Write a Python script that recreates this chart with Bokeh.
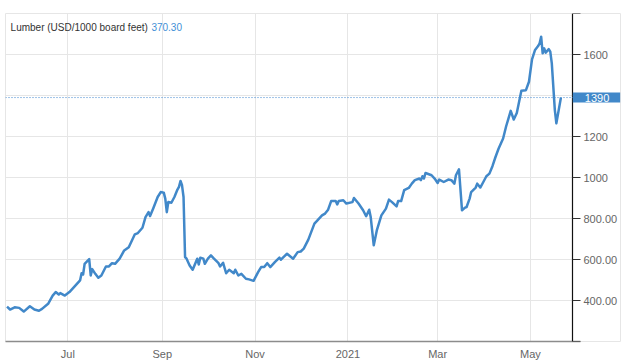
import pandas as pd
from bokeh.plotting import figure
from bokeh.models import ColumnDataSource, FixedTicker, Span, Label, Range1d
from bokeh.embed import file_html
from bokeh.resources import INLINE

# ---- data ----
dates = [
    "2020-05-22", "2020-05-24", "2020-05-27", "2020-05-30", "2020-06-02", "2020-06-06",
    "2020-06-09", "2020-06-12", "2020-06-14", "2020-06-18", "2020-06-21", "2020-06-23",
    "2020-06-25", "2020-06-26", "2020-06-29", "2020-07-02", "2020-07-05", "2020-07-09",
    "2020-07-10", "2020-07-11", "2020-07-12", "2020-07-15", "2020-07-16", "2020-07-17",
    "2020-07-19", "2020-07-21", "2020-07-23", "2020-07-26", "2020-07-28", "2020-07-30",
    "2020-08-01", "2020-08-04", "2020-08-07", "2020-08-10", "2020-08-14", "2020-08-16",
    "2020-08-19", "2020-08-21", "2020-08-23", "2020-08-24", "2020-08-26", "2020-08-29",
    "2020-08-31", "2020-09-02", "2020-09-03", "2020-09-04", "2020-09-05", "2020-09-07",
    "2020-09-09", "2020-09-11", "2020-09-12", "2020-09-13", "2020-09-14", "2020-09-15",
    "2020-09-16", "2020-09-17", "2020-09-19", "2020-09-21", "2020-09-24", "2020-09-25",
    "2020-09-26", "2020-09-28", "2020-09-29", "2020-10-01", "2020-10-03", "2020-10-05",
    "2020-10-08", "2020-10-09", "2020-10-11", "2020-10-13", "2020-10-15", "2020-10-18",
    "2020-10-19", "2020-10-21", "2020-10-23", "2020-10-26", "2020-10-28", "2020-10-31",
    "2020-11-03", "2020-11-05", "2020-11-07", "2020-11-09", "2020-11-11", "2020-11-14",
    "2020-11-17", "2020-11-18", "2020-11-20", "2020-11-22", "2020-11-26", "2020-11-29",
    "2020-12-01", "2020-12-03", "2020-12-06", "2020-12-10", "2020-12-12", "2020-12-15",
    "2020-12-17", "2020-12-19", "2020-12-21", "2020-12-24", "2020-12-25", "2020-12-26",
    "2020-12-29", "2020-12-31", "2021-01-04", "2021-01-05", "2021-01-08", "2021-01-11",
    "2021-01-13", "2021-01-15", "2021-01-16", "2021-01-18", "2021-01-20", "2021-01-23",
    "2021-01-26", "2021-01-28", "2021-01-30", "2021-02-02", "2021-02-03", "2021-02-05",
    "2021-02-07", "2021-02-10", "2021-02-12", "2021-02-14", "2021-02-17", "2021-02-18",
    "2021-02-19", "2021-02-20", "2021-02-21", "2021-02-25", "2021-02-27", "2021-03-01",
    "2021-03-02", "2021-03-05", "2021-03-08", "2021-03-10", "2021-03-12", "2021-03-13",
    "2021-03-15", "2021-03-17", "2021-03-19", "2021-03-20", "2021-03-22", "2021-03-23",
    "2021-03-26", "2021-03-27", "2021-03-29", "2021-03-31", "2021-04-02", "2021-04-04",
    "2021-04-06", "2021-04-08", "2021-04-10", "2021-04-13", "2021-04-15", "2021-04-18",
    "2021-04-20", "2021-04-22", "2021-04-25", "2021-04-28", "2021-04-30", "2021-05-02",
    "2021-05-04", "2021-05-06", "2021-05-07", "2021-05-08", "2021-05-09", "2021-05-10",
    "2021-05-11", "2021-05-13", "2021-05-14", "2021-05-15", "2021-05-17", "2021-05-18",
    "2021-05-21",
]
prices = [
    370.3, 356, 367, 364, 346, 372,
    356, 350, 359, 384, 424, 441,
    429, 436, 424, 441, 465, 498,
    533, 527, 579, 602, 522, 553,
    530, 511, 522, 566, 566, 582,
    579, 604, 644, 660, 723, 729,
    755, 807, 831, 812, 848, 905,
    929, 926, 897, 831, 880, 877,
    905, 941, 954, 983, 962, 905,
    612, 604, 571, 550, 604, 576,
    609, 604, 579, 604, 620, 604,
    582, 566, 584, 533, 550, 533,
    550, 522, 530, 506, 503, 496,
    538, 563, 563, 582, 563, 587,
    609, 599, 614, 628, 604, 636,
    639, 653, 697, 775, 791, 815,
    824, 843, 885, 885, 869, 885,
    889, 873, 880, 900, 873, 840,
    811, 843, 807, 669, 742, 815,
    848, 892, 880, 859, 885, 885,
    938, 949, 970, 987, 995, 987,
    1006, 995, 1022, 1011, 995, 973,
    990, 978, 990, 987, 970, 1011,
    1040, 840, 853, 856, 897, 929,
    951, 970, 951, 978, 1006, 1019,
    1055, 1100, 1140, 1190, 1250, 1325,
    1283, 1315, 1423, 1426, 1467, 1576,
    1622, 1641, 1655, 1687, 1606, 1630,
    1609, 1626, 1614, 1557, 1329, 1264,
    1390,
]

month_ticks = ["2020-07-01", "2020-09-01", "2020-11-01", "2021-01-01", "2021-03-01", "2021-05-01"]
month_labels = ["Jul", "Sep", "Nov", "2021", "Mar", "May"]
y_ticks = [200, 400, 600, 800, 1000, 1200, 1400, 1600, 1800]
y_labels = ["", "400.00", "600.00", "800.00", "1000", "1200", "", "1600", ""]
title_text = "Lumber (USD/1000 board feet)"
title_value = "370.30"
last_value = 1390


def ms(s):
    return pd.Timestamp(s).value / 1e6


BLUE = "#4188c9"
FONT = "Liberation Sans"

X_START = ms("2020-05-21")
X_AXIS = ms("2021-05-28 14:00")      # where the price axis sits
X_END = ms("2021-06-29 03:30")       # right edge of the chart box
X_AXIS_LINE_END = ms("2021-06-02 22:00")

src = ColumnDataSource(dict(x=[ms(d) for d in dates], y=prices))

p = figure(
    frame_width=615, frame_height=328,
    x_range=Range1d(X_START, X_END),
    y_range=Range1d(200, 1800),
    y_axis_location="right",
    output_backend="svg", toolbar_location=None,
    min_border_left=5, min_border_top=13, min_border_right=4, min_border_bottom=22,
)
p.outline_line_color = "#e6e6e6"
p.background_fill_color = "white"
p.border_fill_color = "white"

xt = [ms(t) for t in month_ticks]
p.xaxis.ticker = FixedTicker(ticks=xt)
p.xaxis.major_label_overrides = {t: l for t, l in zip(xt, month_labels)}
p.xaxis.bounds = (X_START, X_AXIS_LINE_END)
p.xaxis.axis_line_color = "#8c8c8c"
p.xaxis.axis_line_width = 1.5
p.xaxis.major_tick_line_color = None
p.xaxis.minor_tick_line_color = None
p.xaxis.major_label_text_color = "#666666"
p.xaxis.major_label_text_font = FONT
p.xaxis.major_label_text_font_size = "11px"
p.xaxis.major_label_standoff = 0

yax = p.yaxis[0]
yax.fixed_location = X_AXIS
yax.ticker = FixedTicker(ticks=y_ticks)
yax.major_label_overrides = {t: l for t, l in zip(y_ticks, y_labels)}
yax.axis_line_color = "#111111"
yax.axis_line_width = 1.2
yax.major_tick_line_color = "#333333"
yax.major_tick_out = 8
yax.major_tick_in = 0
yax.minor_tick_line_color = None
yax.major_label_text_color = "#666666"
yax.major_label_text_font = FONT
yax.major_label_text_font_size = "11px"
yax.major_label_standoff = 3

p.xgrid.grid_line_color = "#e6e6e6"
ygrid = p.ygrid[0]
if "cross_bounds" in ygrid.properties():
    ygrid.grid_line_color = "#e6e6e6"
    ygrid.cross_bounds = (X_START, X_AXIS)
else:
    ygrid.visible = False
    p.segment(x0=X_START, x1=X_AXIS, y0=y_ticks[1:-1], y1=y_ticks[1:-1],
              line_color="#e6e6e6", line_width=1, level="underlay")

p.add_layout(Span(location=last_value, dimension="width", line_color="#3d86cf",
                  line_dash="1 2", line_width=1))

p.line("x", "y", source=src, line_color=BLUE, line_width=2.5, line_join="round")

p.add_layout(Label(x=ms("2020-05-24 08:00"), y=1734, text=title_text,
                   text_font=FONT, text_font_size="10px", text_color="#333333",
                   text_baseline="middle", text_align="left"))
p.add_layout(Label(x=ms("2020-08-24 21:00"), y=1734, text=title_value,
                   text_font=FONT, text_font_size="10px", text_color="#3f8fd6",
                   text_baseline="middle", text_align="left"))
p.add_layout(Label(x=ms("2021-06-13 10:00"), y=last_value, text=str(last_value),
                   text_font=FONT, text_font_size="11px", text_color="white",
                   text_baseline="middle", text_align="center", level="overlay",
                   background_fill_color=BLUE,
                   padding=dict(left=12, right=11, top=1, bottom=1)))

open("out.html", "w").write(file_html(p, INLINE))
